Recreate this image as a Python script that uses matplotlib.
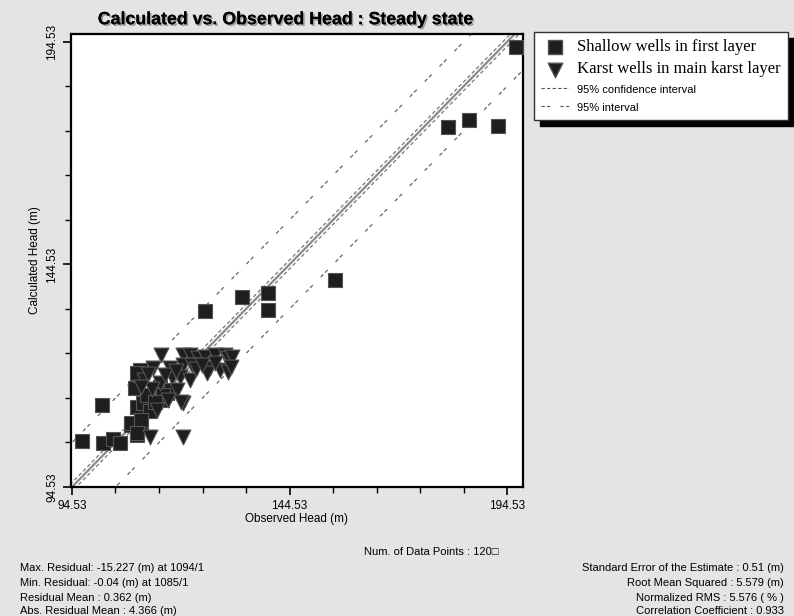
import numpy as np
import matplotlib.pyplot as plt
import matplotlib.patheffects as pe

# shallow wells in first layer (observed, calculated)
shallow_obs = [196.6, 180.9, 185.8, 192.5, 155.0, 139.6, 139.6, 133.6, 125.1,
               96.8, 101.6, 104.0, 105.6, 101.4, 108.1, 110.5, 109.5, 109.4,
               109.0, 110.2, 110.2, 114.8, 114.3, 112.0, 110.9, 112.5, 115.2,
               116.3, 117.4, 109.4, 108.2, 110.5, 109.4, 115.5, 111.7, 113.6]
shallow_calc = [193.4, 175.4, 177.0, 175.7, 141.0, 138.1, 134.3, 137.2, 134.1,
                104.9, 104.5, 105.3, 104.5, 112.9, 108.5, 108.8, 106.2, 112.4,
                116.7, 119.7, 120.8, 117.1, 115.2, 114.8, 113.4, 111.5, 114.1,
                115.6, 116.3, 120.1, 108.9, 109.6, 106.7, 115.2, 115.2, 113.7]

# karst wells in main karst layer (observed, calculated)
karst_obs = [115.1, 113.2, 117.1, 120.0, 121.7, 123.5, 125.1, 127.4, 129.7,
             130.4, 131.3, 126.3, 128.5, 130.4, 131.0, 120.0, 122.1, 119.4,
             117.5, 114.8, 118.7, 120.0, 114.1, 121.7, 125.6, 112.5, 120.0,
             119.7, 111.0, 112.0, 116.0, 113.0, 110.5, 116.5, 123.0, 127.5,
             118.5, 124.5]
karst_calc = [124.2, 121.3, 121.3, 124.2, 124.2, 123.5, 123.7, 124.2, 124.2,
              123.5, 123.8, 121.3, 120.8, 120.4, 121.5, 122.0, 122.0, 119.2,
              119.2, 117.9, 116.3, 113.4, 111.8, 118.6, 120.1, 105.8, 105.8,
              113.7, 118.5, 120.0, 119.8, 116.5, 117.0, 114.0, 121.0, 122.5,
              120.5, 122.0]

conf_offset = 1.0     # 95% confidence interval
pred_offset = 10.0    # 95% interval

left_stats = ["Max. Residual: -15.227 (m) at 1094/1",
              "Min. Residual: -0.04 (m) at 1085/1",
              "Residual Mean : 0.362 (m)",
              "Abs. Residual Mean : 4.366 (m)"]
right_stats = ["Standard Error of the Estimate : 0.51 (m)",
               "Root Mean Squared : 5.579 (m)",
               "Normalized RMS : 5.576 ( % )",
               "Correlation Coefficient : 0.933"]

bg = '#e4e4e4'
sans = ['Liberation Sans', 'DejaVu Sans']
serif = ['Liberation Serif', 'DejaVu Serif']

fig = plt.figure(figsize=(7.94, 6.16), dpi=100, facecolor=bg)
ax = fig.add_axes([0.0894, 0.2094, 0.5693, 0.7354])
ax.set_facecolor('white')

xmin, xmax = 94.3, 198.2
ymin, ymax = 94.53, 196.3
xx = np.array([80.0, 210.0])

ax.plot(xx, xx, color='#8a8a8a', lw=1.6, zorder=2)
ax.plot(xx, xx + conf_offset, color='#777777', lw=0.9, dashes=(3, 2), zorder=2)
ax.plot(xx, xx - conf_offset, color='#777777', lw=0.9, dashes=(3, 2), zorder=2)
ax.plot(xx, xx + pred_offset, color='#666666', lw=0.9, dashes=(3, 2, 3, 9), zorder=2)
ax.plot(xx, xx - pred_offset, color='#666666', lw=0.9, dashes=(3, 2, 3, 9), zorder=2)

ax.scatter(shallow_obs, shallow_calc, marker='s', s=100, c='#1e1e1e',
           edgecolors='#555555', linewidths=0.8, zorder=3)
ax.scatter(karst_obs, karst_calc, marker='v', s=115, c='#1e1e1e',
           edgecolors='#555555', linewidths=0.8, zorder=4)

ax.set_xlim(xmin, xmax)
ax.set_ylim(ymin, ymax)
major = [94.53, 144.53, 194.53]
ax.set_xticks(major)
ax.set_yticks(major)
ax.set_xticklabels(['94.53', '144.53', '194.53'], fontsize=8.5, family=sans)
ax.set_yticklabels(['94.53', '144.53', '194.53'], fontsize=8.5, family=sans,
                   rotation=90, va='center')
minor = [94.53 + 10 * i for i in range(11)]
ax.set_xticks(minor, minor=True)
ax.set_yticks(minor, minor=True)
ax.tick_params(which='major', length=6, width=1.2, direction='out', pad=3)
ax.tick_params(which='minor', length=4, width=1.0, direction='out')
for s in ax.spines.values():
    s.set_linewidth(1.6)

ax.set_xlabel('Observed Head (m)', fontsize=8.5, family=sans, labelpad=1)
ax.set_ylabel('Calculated Head (m)', fontsize=8.5, family=sans, labelpad=4)

fig.text(0.36, 0.968, 'Calculated vs. Observed Head : Steady state',
         ha='center', va='center', fontsize=12.8, fontweight='bold', family=sans,
         path_effects=[pe.withSimplePatchShadow(offset=(1.2, -1.2),
                                                shadow_rgbFace='#888888', alpha=0.8),
                       pe.Normal()])

# legend
h1 = ax.scatter([], [], marker='s', s=95, c='#1e1e1e', edgecolors='#555555')
h2 = ax.scatter([], [], marker='v', s=110, c='#1e1e1e', edgecolors='#555555')
h3, = ax.plot([], [], color='#555555', lw=0.8, dashes=(3, 2))
h4, = ax.plot([], [], color='#555555', lw=0.8, dashes=(3, 2, 3, 9))
leg = fig.legend([h1, h2, h3, h4],
                 ['Shallow wells in first layer', 'Karst wells in main karst layer',
                  '95% confidence interval', '95% interval'],
                 loc='upper left', bbox_to_anchor=(0.673, 0.948),
                 frameon=True, fancybox=False, edgecolor='#333333',
                 shadow={'color': 'black', 'alpha': 1.0, 'ox': 4, 'oy': -4},
                 handlelength=2.0, handletextpad=0.6, borderpad=0.5,
                 labelspacing=0.45, borderaxespad=0)
leg.get_frame().set_linewidth(1.0)
texts = leg.get_texts()
for t in texts[:2]:
    t.set_family(serif)
    t.set_fontsize(12)
for t in texts[2:]:
    t.set_family(sans)
    t.set_fontsize(8)

# statistics
fig.text(0.543, 1 - 552 / 616, 'Num. of Data Points : 120\u25a1', ha='center',
         va='center', fontsize=8, family=sans)
ys = [568, 583, 598, 611]
for txt, y in zip(left_stats, ys):
    fig.text(0.025, 1 - y / 616, txt, ha='left', va='center', fontsize=8, family=sans)
for txt, y in zip(right_stats, ys):
    fig.text(0.987, 1 - y / 616, txt, ha='right', va='center', fontsize=8, family=sans)

fig.savefig('out.png', dpi=100, facecolor=bg)
